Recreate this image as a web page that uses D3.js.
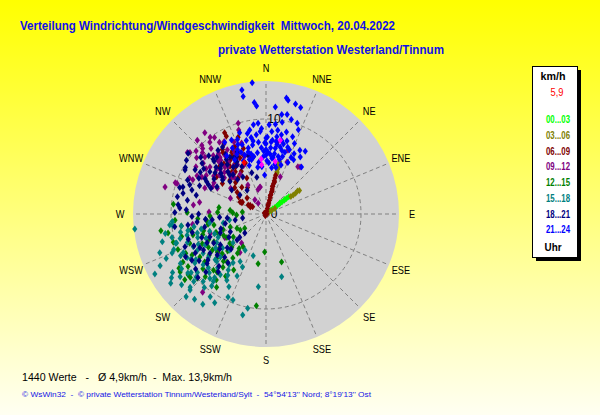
<!DOCTYPE html>
<html><head><meta charset="utf-8">
<script src="https://cdnjs.cloudflare.com/ajax/libs/d3/7.8.5/d3.min.js"></script>
<style>html,body{margin:0;padding:0;background:#fff;}svg{display:block;}text{white-space:pre;}</style>
</head><body>
<script>
// ---------- DATA (direction in compass degrees, speed in km/h) ----------
const titleText = "Verteilung Windrichtung/Windgeschwindigkeit  Mittwoch, 20.04.2022";
const subtitleText = "private Wetterstation Westerland/Tinnum";
const statsText = "1440 Werte   -   \u00d8 4,9km/h  -  Max. 13,9km/h";
const footerText = "\u00a9 WsWin32  -  \u00a9 private Wetterstation Tinnum/Westerland/Sylt  -  54\u00b054'13'' Nord; 8\u00b019'13'' Ost";
const directions = ["N","NNE","NE","ENE","E","ESE","SE","SSE","S","SSW","SW","WSW","W","WNW","NW","NNW"];
const ringTicks = [10];
const speedMax = 14;
const legendTitle = "km/h";
const currentSpeedLabel = "5,9";
const legendUnit = "Uhr";
const timeBins = ["00...03","03...06","06...09","09...12","12...15","15...18","18...21","21...24"];

const s0003 = [[53,0.6],[53,0.9],[53,1.2],[53,1.5],[53,1.8],[53,2.1],[53,2.4],[53,2.7],[53,3.0],[51,1.9],[52,2.5]];
const s0306 = [[56,0.3],[57,0.7],[58,1.1],[55,3.2],[55,3.5],[55,3.8],[54,4.1],[55,4.3],[14.5,4.3],[14.5,4.6],[14.5,4.9],[14.5,5.2],[14.5,5.5],[14.5,5.7],[15,4.5],[15,5.1]];
const s0609 = [[14,0.3],[14,0.6],[14,0.9],[14,1.2],[14,1.5],[14,1.8],[14,2.1],[14,2.4],[14,2.7],[14,3.0],[14,3.3],[14,3.6],[14,3.9],[14,4.2],[13,1.0],[13,2.0],[13,3.0],[15,3.5],[15,2.5],[200,0.2],[300,0.2],[90,0.1],
  [333,9.6],[331,7.4],[341,7.3],[332,4.3],[295,3.0],[299,1.9],[318,3.8],[321,5.7],[295,2.8],[294,1.8],[332,7.5],[310,4.3],[307,6.5],[322,4.8],[326,6.8],[328,6.2],[324,5.5],[318,6.0],[315,7.0],[335,6.5],[338,5.8],[330,5.2],[320,7.6],[313,5.2],[326,8.2],[340,8.6],[335,7.8],[316,4.6],[305,5.6],[345,6.2],[302,3.4],[310,2.6],[325,3.4],[307,3.8],[297,2.8],[297,2.1],[298,1.6],[333,9.2],[329,7.0],[319,6.6],
  [323,6.3],[327,5.9],[331,6.9],[320,6.9],[336,7.1],[318,5.3],[325,7.9],[339,6.6],[329,8.6]];
const s0912 = [[343,10.0],[323,10.7],[317,10.6],[324,10.0],[285,11.0],[289,10.1],[295,8.9],[308,10.5],[314,9.3],[321,6.4],[324,1.4],[347,2.9],[21,4.2],[34,6.0],[19,7.1],[342,9.3],[320,7.4],[299,8.3],
  [326,9.7],[322,9.6],[316,9.6],[309,10.3],[309,9.4],[289,9.9],[295,8.5],[300,7.8],[309,8.5],[318,7.6],[319,6.6],[321,5.5],[310,6.4],[328,3.6],[322,1.9],[342,2.7],[348,2.9],[294,4.1],[297,6.3],[293,7.0],[36,6.1],[22,5.9],[9,7.6],[341,7.9],[333,7.3],[324,6.8],[321,7.7],[310,7.7],
  [315,6.2],[312,7.0],[318,8.3],[325,7.5],[330,6.0],[327,5.0],[335,5.6],[306,6.8],[303,7.5],[320,9.0],[313,8.8],[330,8.8],[340,6.5],[298,5.8],[306,4.6],[316,5.3],
  [318,7.2],[322,8.1],[314,6.7],[311,5.8],[326,6.1],[329,7.9],[332,6.6],[307,7.9],[304,8.9],[301,6.4],[317,9.9],[327,9.0],[336,8.3],[312,9.9],[319,5.1],
  [219,10.6],[220,4.0],[214,4.9],[251,6.2],[240,5.0],[231,6.5],[262,7.8],[277,7.7],[280,7.1],[272,6.0]];
const s1215 = [[276,9.8],[261,11.2],[259,10.5],[182,4.0],[189,5.3],[162,5.3],[186,9.7],[214,9.3],[217,8.7],[227,9.9],[232,10.4],[236,2.7],[268,3.1],[278,5.0],
  [266,9.6],[271,8.3],[264,6.3],[272,5.1],[276,3.8],[272,3.5],[244,3.4],[250,4.0],[250,4.8],[235,4.2],[231,4.9],[238,3.2],[215,4.2],[234,6.0],[236,6.8],[237,8.3],[249,8.6],[255,9.2],[240,10.1],[236,9.9],[232,8.2],[232,6.5],[219,6.5],[217,5.8],[216,5.1],[219,7.2],[223,8.1],[236,10.9],[231,11.0],[275,2.5],
  [245,7.4],[242,6.2],[228,7.0],[226,5.6],[241,8.9],[252,7.0],[258,5.6],[246,5.4],[229,8.8],[222,6.7],[239,4.8],[254,8.0],
  [262,9.0],[258,8.1],[253,10.2],[248,10.0],[244,9.4],[240,7.0],[234,7.4],[228,6.2],[224,9.2],[220,8.0],[213,7.8],[210,6.8],[246,6.6],[255,6.8],[260,6.2],[266,7.2],[268,5.9],[250,5.6],[243,5.0],[230,10.4],[238,10.8],[226,5.0],[218,4.6]];
const s1518 = [[263.5,13.9],[241.6,13.3],[236,12.0],[224,12.1],[214,10.5],[210,10.8],[204.6,9.6],[201,9.7],[193,10.9],[191,10.1],[166,6.8],[197,4.6],[250,11.9],[255,11.3],[265.5,9.9],[225,11.3],[186,7.7],
  [247.5,10.7],[259,10.8],[263,9.9],[254,9.4],[258,8.4],[254.6,7.5],[261,6.0],[258,4.6],[260.5,3.9],[245,9.6],[235.4,9.1],[227,8.3],[217,8.0],[214,7.1],[214,6.2],[228,7.2],[238,7.8],[245.7,8.4],[244,5.6],[225,5.4],[204,6.1],[208.5,5.7],[229,4.6],[217,9.5],[210.6,8.1],[233.8,11.2],[229.5,9.5],[226,11.1],[226.7,6.6],[210,4.4],[263.5,10.2],
  [240,10.4],[232,10.0],[221,9.0],[250,8.8],[243,7.2],[236,6.4],[248,6.8],[231,8.5],[219,8.6],[252,10.0],[239,9.2],[246,11.5],[228,9.9],[222,7.6],
  [258,9.2],[256,10.2],[252,9.9],[249,10.4],[244,10.0],[241,9.5],[237,10.6],[233,10.3],[230,11.6],[227,10.4],[223,9.7],[220,10.1],[218,9.0],[224,8.6],[233,7.6],[237,8.8],[242,8.2],[246,7.8],[251,7.6],[255,8.6],[260,7.7],[257,7.0],[253,6.2],[249,5.8],[240,6.0],[232,5.8],[226,7.2],[216,6.6],[212,7.6],[207,8.6],[205,7.2],[262,9.0],[234,12.4],[238,11.6],[244,12.4],[220,11.7],[215,11.6]];
const s1821 = [[300,9.8],[281,9.5],[271,9.6],[308,10.4],[304,10.1],[297,6.8],[287,9.5],
  [298.5,9.7],[288,9.2],[293.5,9.0],[302.5,8.2],[288,8.2],[315.5,7.8],[323,8.4],[327,8.4],[327.7,7.1],[331,6.3],[333,5.6],[325,6.0],[318,6.0],[315,6.8],[307,7.4],[308,5.8],[320.5,4.7],[321.6,3.2],[306,3.4],[305,4.4],[299,5.9],[298.5,7.1],[308.5,8.6],[315.5,8.6],[343,6.5],[347,6.1],[341,4.6],[346,4.0],[328,4.6],
  [318,7.0],[322,6.6],[312,6.4],[316,8.0],[326,7.6],[330,6.8],[320,5.4],[310,6.0],[304,6.6],[298,8.0],[293,7.6],[302,8.8],[311,9.1],[335,7.2],
  [313,7.2],[319,7.9],[324,7.1],[329,6.0],[317,5.6],[309,6.9],[306,8.1],[300,7.4],[295,6.4],[291,8.6],[284,9.0],[276,9.3],[280,8.4],[285,7.6],[312,5.1],[333,6.8],
  [274,9.1],[268,7.8],[262,8.3],[263.4,7.3],[258,6.6],[264,5.7],[266,4.9],[264,4.1],[259,3.3],[260,2.5],[228,3.0],[228,4.1],[229,5.4],[230,6.7],[231.6,7.8],[238,9.2],[248,9.2],[243,7.8],[247.7,6.4],[247.6,5.2],[250,7.2],[230,8.1],[218,6.5],[227,9.8],[219.6,7.9],[228.5,3.7],[243.4,4.2],[241,6.3],[240,7.6],[241.2,8.5],[223.6,6.3],[235,7.2],
  [256,8.0],[252,8.6],[246,8.3],[242,9.6],[235,8.6],[232,9.4],[226,8.8],[222,7.4],[236,5.8],[244,6.9],[252,5.0],[257,4.4],[265,6.4],[270,7.1],[273,8.4],[262,9.7],[233,6.1],[238,4.6],[225,5.2]];
const s2124 = [[354,13.9],[349,13.3],[349,12.6],[354,11.8],[355,11.4],[10,12.4],[11,12.2],[15,12.0],[18,11.8],[9,10.6],[12,10.7],[15,10.3],[19,10.1],[21,9.5],[19,8.6],[14,8.9],[10,9.8],[8,8.9],[4,8.7],[32,7.8],[31,7.0],[23,5.9],[17,6.8],[37,6.2],[355,9.6],[5,11.3],
  [335,8.6],[339,8.4],[349,9.0],[349,8.2],[341,7.7],[356,8.7],[354,7.6],[359,7.5],[5,7.8],[9,7.4],[2,6.5],[7,6.0],[357,6.0],[352,6.5],[345,7.2],[340,6.6],[345,5.9],[355,5.0],[358,4.1],[7,4.9],[14,5.9],[14,6.9],[8,8.2],[1,8.1],[356,7.0],[349,7.4],[336,7.4],[330,8.7],
  [0,6.2],[0,6.8],[0,7.4],[0,8.0],[4,6.3],[4,7.0],[4,7.6],[8,6.4],[8,7.0],[8,7.7],[12,6.2],[12,7.2],[12,7.9],[352,5.5],[348,6.2],[344,6.8],[338,7.0],[333,7.8],[345,8.0],[350,5.0],[3,5.4],[10,5.3],[16,6.3],[18,7.4],[25,7.0],[27,6.4],[22,8.0],[341,5.4],[337,6.1],[330,6.6],[326,7.4],[352,9.5],
  [346,6.5],[350,7.8],[353,8.4],[357,9.0],[2,9.4],[6,9.5],[11,8.5],[16,8.0],[20,7.2],[24,6.5],[28,7.6],[14,7.6],[6,5.9],[1,5.6],[358,6.6],[347,8.7],[342,9.0],[338,7.9],[334,7.0],[343,6.0],[12,5.0],[17,5.4]];
const latest = [[11,7.9],[355,5.8],[355,5.2],[10,5.6]];
const current = [[337,5.9]];
const series = [s0003, s0306, s0609, s0912, s1215, s1518, s1821, s2124];

// ---------- STYLE ----------
const W = 600, H = 415, cx = 266, cy = 214, R = 133;
const binColors = ["#00ff00","#808000","#800000","#800080","#008000","#008080","#000080","#0000ff"];

const svg = d3.select("body").append("svg").attr("width", W).attr("height", H)
  .style("font-family", "'Liberation Sans', Arial, sans-serif");
const defs = svg.append("defs");
const grad = defs.append("linearGradient").attr("id","bg").attr("x1",0).attr("y1",0).attr("x2",0).attr("y2",1);
grad.append("stop").attr("offset","0%").attr("stop-color","#ffff00");
grad.append("stop").attr("offset","100%").attr("stop-color","#fffff2");
svg.append("rect").attr("width", W).attr("height", H).attr("fill","url(#bg)");

const rScale = d3.scaleLinear().domain([0, speedMax]).range([0, R]);
const px = (dir, sp) => cx + rScale(sp) * Math.sin(dir * Math.PI / 180);
const py = (dir, sp) => cy - rScale(sp) * Math.cos(dir * Math.PI / 180);

// polar background
svg.append("circle").attr("cx", cx).attr("cy", cy).attr("r", rScale(speedMax)).attr("fill", "#d2d2d2");

const grid = svg.append("g").attr("stroke", "#808080").attr("stroke-dasharray", "4,3").attr("fill","none");
grid.selectAll("line").data(directions).join("line")
  .attr("x1", cx).attr("y1", cy)
  .attr("x2", (d, i) => px(i * 22.5, speedMax)).attr("y2", (d, i) => py(i * 22.5, speedMax));
grid.selectAll("circle").data(ringTicks).join("circle")
  .attr("cx", cx).attr("cy", cy).attr("r", d => rScale(d));

// direction labels
svg.append("g").selectAll("text").data(directions).join("text")
  .attr("x", (d, i) => cx + 146 * Math.sin(i * 22.5 * Math.PI / 180))
  .attr("y", (d, i) => cy - 146 * Math.cos(i * 22.5 * Math.PI / 180))
  .attr("text-anchor", "middle").attr("dominant-baseline", "central")
  .attr("font-size", 11.5).attr("fill", "#000")
  .text(d => d)
  .each(function(){ const w = this.getComputedTextLength(); d3.select(this).attr("textLength", w*0.8).attr("lengthAdjust","spacingAndGlyphs"); });

// ring labels
svg.append("g").selectAll("text").data([0].concat(ringTicks)).join("text")
  .attr("x", d => px(0, d) + 8).attr("y", d => py(0, d) + 4)
  .attr("text-anchor", "middle").attr("font-size", 12).attr("fill", "#000")
  .text(d => d);

// points
const diamond = "M0,-3.5L2.6,0L0,3.5L-2.6,0Z";
const pts = svg.append("g");
series.forEach((s, i) => {
  pts.append("g").attr("fill", binColors[i]).selectAll("path").data(s).join("path")
    .attr("d", diamond).attr("transform", d => `translate(${px(d[0], d[1])},${py(d[0], d[1])})`);
});
pts.append("g").attr("fill", "#ff00ff").selectAll("path").data(latest).join("path")
  .attr("d", diamond).attr("transform", d => `translate(${px(d[0], d[1])},${py(d[0], d[1])})`);
pts.append("g").attr("fill", "#ff0000").selectAll("path").data(current).join("path")
  .attr("d", diamond).attr("transform", d => `translate(${px(d[0], d[1])},${py(d[0], d[1])})`);

// titles
function fitText(sel, len){ sel.attr("textLength", len).attr("lengthAdjust", "spacingAndGlyphs").attr("xml:space","preserve"); return sel; }
fitText(svg.append("text").attr("x", 20).attr("y", 29.5).attr("font-size", 13).attr("font-weight","bold").attr("fill","#1010e8").text(titleText), 375);
fitText(svg.append("text").attr("x", 218).attr("y", 54).attr("font-size", 13).attr("font-weight","bold").attr("fill","#1010e8").text(subtitleText), 226);
fitText(svg.append("text").attr("x", 22).attr("y", 381).attr("font-size", 11).attr("fill","#000").text(statsText), 210);
fitText(svg.append("text").attr("x", 22).attr("y", 396.5).attr("font-size", 8).attr("fill","#1414e6").text(footerText), 349);

// legend
const lg = svg.append("g");
lg.append("rect").attr("x", 536).attr("y", 70).attr("width", 45).attr("height", 191).attr("fill", "#000");
lg.append("rect").attr("x", 532.5).attr("y", 66.5).attr("width", 45).attr("height", 191).attr("fill", "#fff").attr("stroke", "#000");
const lx = 555;
fitText(lg.append("text").attr("x", lx - 2).attr("y", 80).attr("text-anchor","middle").attr("font-size", 11).attr("font-weight","bold").text(legendTitle), 25);
fitText(lg.append("text").attr("x", lx + 2).attr("y", 96).attr("text-anchor","middle").attr("font-size", 11).attr("fill","#ff0000").text(currentSpeedLabel), 13);
lg.selectAll("text.bin").data(timeBins).join("text").attr("class","bin")
  .attr("x", lx + 3).attr("y", (d, i) => 123.3 + i * 15.7)
  .attr("text-anchor","middle").attr("font-size", 10.5).attr("font-weight","bold")
  .attr("fill", (d, i) => binColors[i]).attr("textLength", 24).attr("lengthAdjust","spacingAndGlyphs")
  .text(d => d);
fitText(lg.append("text").attr("x", lx - 2).attr("y", 250.7).attr("text-anchor","middle").attr("font-size", 11).attr("font-weight","bold").text(legendUnit), 17);
</script>
</body></html>
